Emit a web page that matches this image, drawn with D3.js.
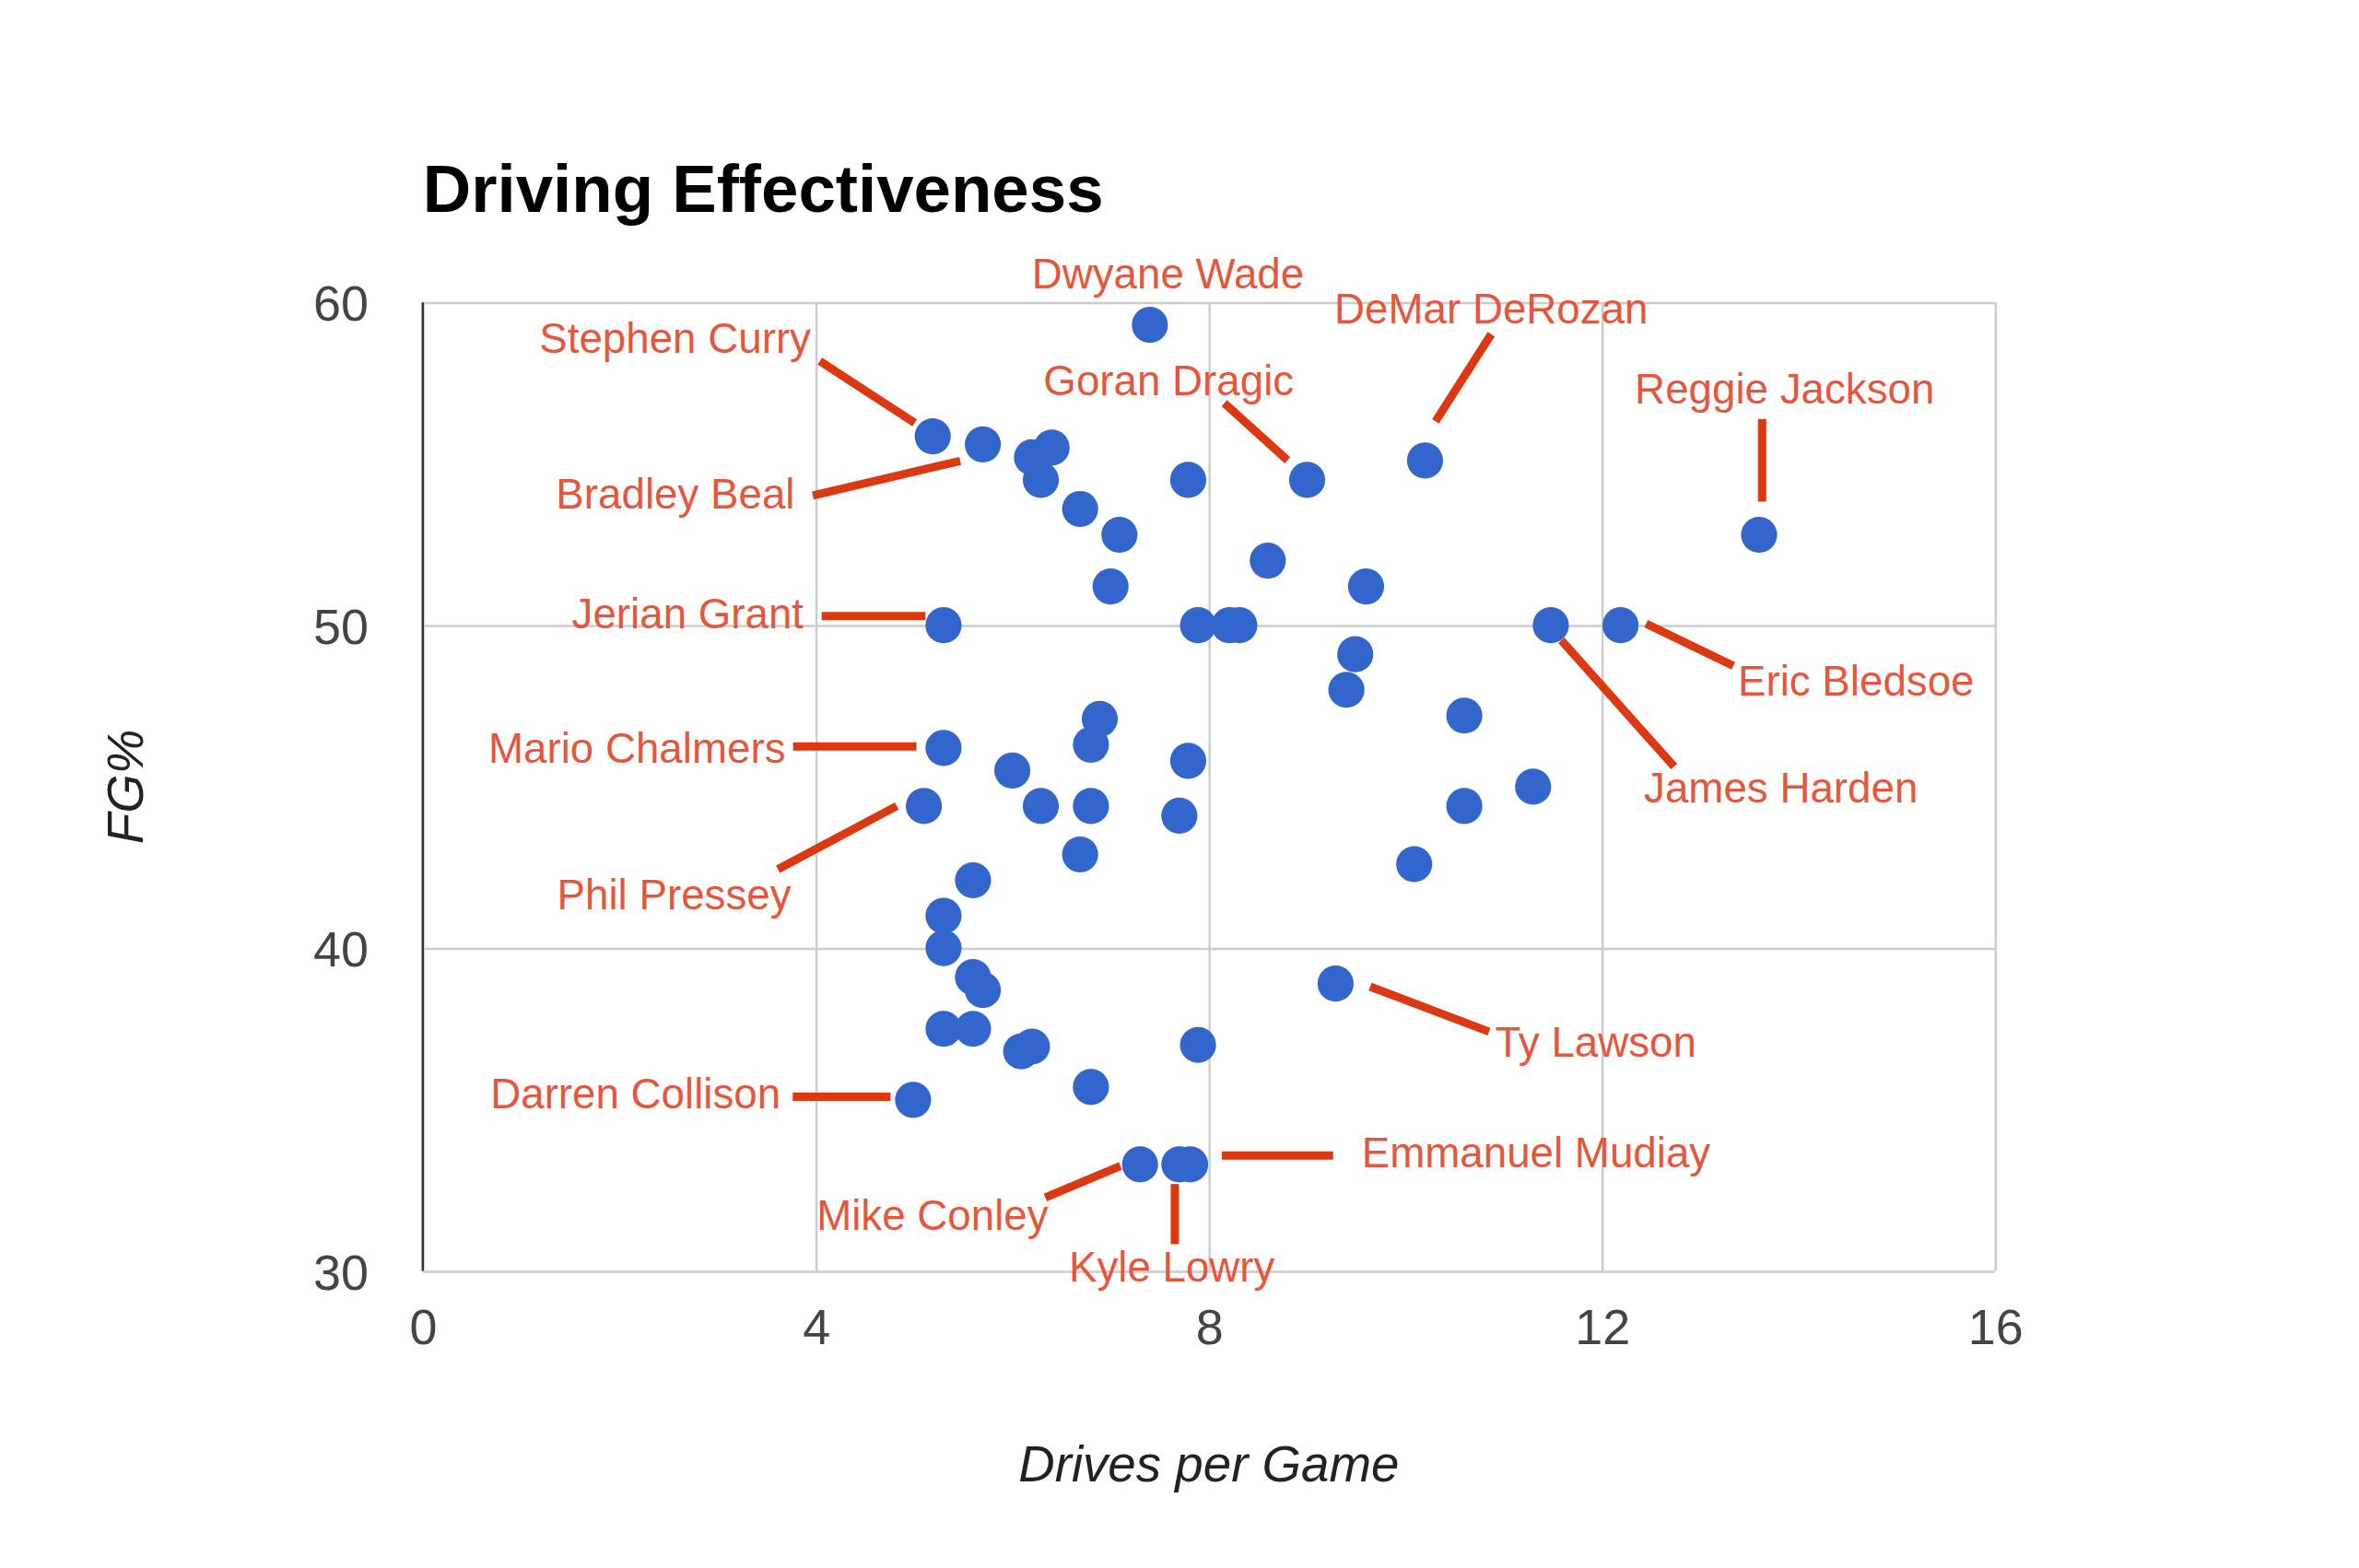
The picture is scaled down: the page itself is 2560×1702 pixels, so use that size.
<!DOCTYPE html>
<html>
<head>
<meta charset="utf-8">
<script src="https://cdn.jsdelivr.net/npm/d3@7"></script>
<style>
  html, body { margin: 0; padding: 0; background: #fff; }
  svg { display: block; }
</style>
</head>
<body>
<svg id="chart"></svg>
<script>
// ---------------- data ----------------
const playerNames = [
  "Dwyane Wade", "Stephen Curry", "Bradley Beal", "", "", "", "", "Goran Dragic", "DeMar DeRozan",
  "", "", "Reggie Jackson", "", "", "",
  "Jerian Grant", "", "", "", "James Harden", "Eric Bledsoe",
  "", "", "", "", "Mario Chalmers", "", "", "", "",
  "Phil Pressey", "", "", "", "", "", "", "", "", "", "", "",
  "Ty Lawson", "", "", "", "", "", "", "Darren Collison",
  "Mike Conley", "Kyle Lowry", "Emmanuel Mudiay"
];
const drivesPerGame = [
  7.40, 5.19, 5.70, 6.20, 6.40, 6.29, 7.79, 9.00, 10.20,
  6.69, 7.09, 13.60, 8.60, 7.00, 9.60,
  5.30, 7.89, 8.21, 8.31, 11.48, 12.19,
  9.49, 9.40, 6.89, 10.60, 5.30, 6.80, 7.79, 6.00, 11.30,
  5.10, 6.29, 6.80, 10.60, 7.70, 6.69, 10.09, 5.60, 5.30, 5.30, 5.60, 5.70,
  9.29, 5.30, 5.60, 6.20, 6.09, 7.89, 6.80, 4.99,
  7.30, 7.70, 7.81
];
const fgPct = [
  59.3, 55.85, 55.6, 55.2, 55.5, 54.5, 54.5, 54.5, 55.1,
  53.6, 52.8, 52.8, 52.0, 51.2, 51.2,
  50.0, 50.0, 50.0, 50.0, 50.0, 50.0,
  49.1, 48.0, 47.1, 47.2, 46.2, 46.3, 45.8, 45.5, 45.0,
  44.4, 44.4, 44.4, 44.4, 44.1, 42.9, 42.6, 42.1, 41.0, 40.0, 39.1, 38.7,
  38.9, 37.5, 37.5, 36.95, 36.8, 37.0, 35.7, 35.3,
  33.3, 33.3, 33.3
];
const xTicks = [0, 4, 8, 12, 16];
const yTicks = [30, 40, 50, 60];
const chartTitle = "Driving Effectiveness";
const xTitle = "Drives per Game";
const yTitle = "FG%";

// ---------------- layout (annotation placement, px offsets from point) ----------------
const annotationLayout = {
  "Dwyane Wade":     { tx: 12,   ty: -34, anchor: "middle", line: null },
  "DeMar DeRozan":   { tx: 44,   ty: -101, anchor: "middle", line: [44, -84, 7, -26] },
  "Stephen Curry":   { tx: -81,  ty: -65, anchor: "end",    line: [-75, -50, -12, -9] },
  "Goran Dragic":    { tx: -92,  ty: -66, anchor: "middle", line: [-55, -51, -13, -13] },
  "Reggie Jackson":  { tx: 17,   ty: -97, anchor: "middle", line: [2, -77, 2, -22] },
  "Bradley Beal":    { tx: -125, ty: 33,  anchor: "end",    line: [-113, 34, -15, 11] },
  "Jerian Grant":    { tx: -93,  ty: -8,  anchor: "end",    line: [-81, -6, -12, -6] },
  "Eric Bledsoe":    { tx: 78,   ty: 37,  anchor: "start",  line: [17, -1, 75, 27] },
  "Mario Chalmers":  { tx: -105, ty: 0,   anchor: "end",    line: [-100, -1, -18, -1] },
  "James Harden":    { tx: 153,  ty: 108, anchor: "middle", line: [7, 10, 82, 94] },
  "Phil Pressey":    { tx: -166, ty: 59,  anchor: "middle", line: [-97, 42, -18, 0] },
  "Ty Lawson":       { tx: 106,  ty: 39,  anchor: "start",  line: [23, 2, 102, 32] },
  "Darren Collison": { tx: -88,  ty: -4,  anchor: "end",    line: [-80, -2, -15, -2] },
  "Emmanuel Mudiay": { tx: 114,  ty: -8,  anchor: "start",  line: [21, -6, 95, -6] },
  "Mike Conley":     { tx: -138, ty: 34,  anchor: "middle", line: [-63, 22, -13, 1] },
  "Kyle Lowry":      { tx: -5,   ty: 68,  anchor: "middle", line: [-3, 13, -3, 53] }
};

const points = drivesPerGame.map((x, i) => ({ name: playerNames[i], x, y: fgPct[i] }));

// ---------------- drawing ----------------
const VW = 1568, VH = 1702 * 1568 / 2560;
const svg = d3.select("#chart")
  .attr("width", 2560).attr("height", 1702)
  .attr("viewBox", `0 0 ${VW} ${VH}`);

const FONT = "'Liberation Sans', Arial, sans-serif";
const plot = { left: 281, right: 1326, top: 201, bottom: 845 };

const x = d3.scaleLinear().domain([0, 16]).range([plot.left, plot.right]);
const y = d3.scaleLinear().domain([30, 60]).range([plot.bottom, plot.top]);

// gridlines
const gx = svg.append("g").attr("transform", `translate(0,${plot.bottom})`)
  .call(d3.axisBottom(x).tickValues(xTicks).tickSize(-(plot.bottom - plot.top)).tickFormat(""));
gx.select(".domain").remove();
gx.selectAll("line").attr("stroke", "#cccccc").attr("stroke-width", 1.5);

const gy = svg.append("g").attr("transform", `translate(${plot.left},0)`)
  .call(d3.axisLeft(y).tickValues(yTicks).tickSize(-(plot.right - plot.left)).tickFormat(""));
gy.select(".domain").remove();
gy.selectAll("line").attr("stroke", "#cccccc").attr("stroke-width", 1.5);

// left axis baseline (dark)
svg.append("line")
  .attr("x1", x(0)).attr("x2", x(0))
  .attr("y1", y(60)).attr("y2", y(30))
  .attr("stroke", "#333333").attr("stroke-width", 1.5);

// tick labels
const xl = svg.append("g").attr("transform", `translate(0,${plot.bottom + 37})`)
  .call(d3.axisBottom(x).tickValues(xTicks).tickSize(0).tickPadding(0).tickFormat(d3.format("d")));
xl.select(".domain").remove();
xl.selectAll("text")
  .attr("font-family", FONT).attr("font-size", 33).attr("fill", "#444444")
  .attr("dy", "0.35em");

const yl = svg.append("g").attr("transform", `translate(${plot.left - 36},0)`)
  .call(d3.axisLeft(y).tickValues(yTicks).tickSize(0).tickPadding(0).tickFormat(d3.format("d")));
yl.select(".domain").remove();
yl.selectAll("text")
  .attr("font-family", FONT).attr("font-size", 33).attr("fill", "#444444")
  .attr("dy", "0.36em");

// title
svg.append("text")
  .attr("x", plot.left).attr("y", 141)
  .attr("font-family", FONT).attr("font-weight", "bold").attr("font-size", 44.5)
  .attr("fill", "#000").text(chartTitle);

// axis titles
svg.append("text")
  .attr("x", (plot.left + plot.right) / 2).attr("y", 973).attr("dy", "0.35em")
  .attr("text-anchor", "middle").attr("font-family", FONT).attr("font-style", "italic")
  .attr("font-size", 33.5).attr("fill", "#222").text(xTitle);

svg.append("text")
  .attr("transform", `translate(83,${(plot.top + plot.bottom) / 2}) rotate(-90)`)
  .attr("dy", "0.35em")
  .attr("text-anchor", "middle").attr("font-family", FONT).attr("font-style", "italic")
  .attr("font-size", 33.5).attr("fill", "#222").text(yTitle);

// points
svg.append("g").selectAll("circle").data(points).join("circle")
  .attr("cx", d => x(d.x)).attr("cy", d => y(d.y)).attr("r", 12)
  .attr("fill", "#3366cc");

// annotations
const annotated = points.filter(d => d.name && annotationLayout[d.name]);
const ag = svg.append("g");
ag.selectAll("line").data(annotated.filter(d => annotationLayout[d.name].line)).join("line")
  .attr("x1", d => x(d.x) + annotationLayout[d.name].line[0])
  .attr("y1", d => y(d.y) + annotationLayout[d.name].line[1])
  .attr("x2", d => x(d.x) + annotationLayout[d.name].line[2])
  .attr("y2", d => y(d.y) + annotationLayout[d.name].line[3])
  .attr("stroke", "#dc3912").attr("stroke-width", 5.5);

ag.selectAll("text").data(annotated).join("text")
  .attr("x", d => x(d.x) + annotationLayout[d.name].tx)
  .attr("y", d => y(d.y) + annotationLayout[d.name].ty)
  .attr("dy", "0.35em")
  .attr("text-anchor", d => annotationLayout[d.name].anchor)
  .attr("font-family", FONT).attr("font-size", 28)
  .attr("fill", "#e4573d")
  .text(d => d.name);
</script>
</body>
</html>
